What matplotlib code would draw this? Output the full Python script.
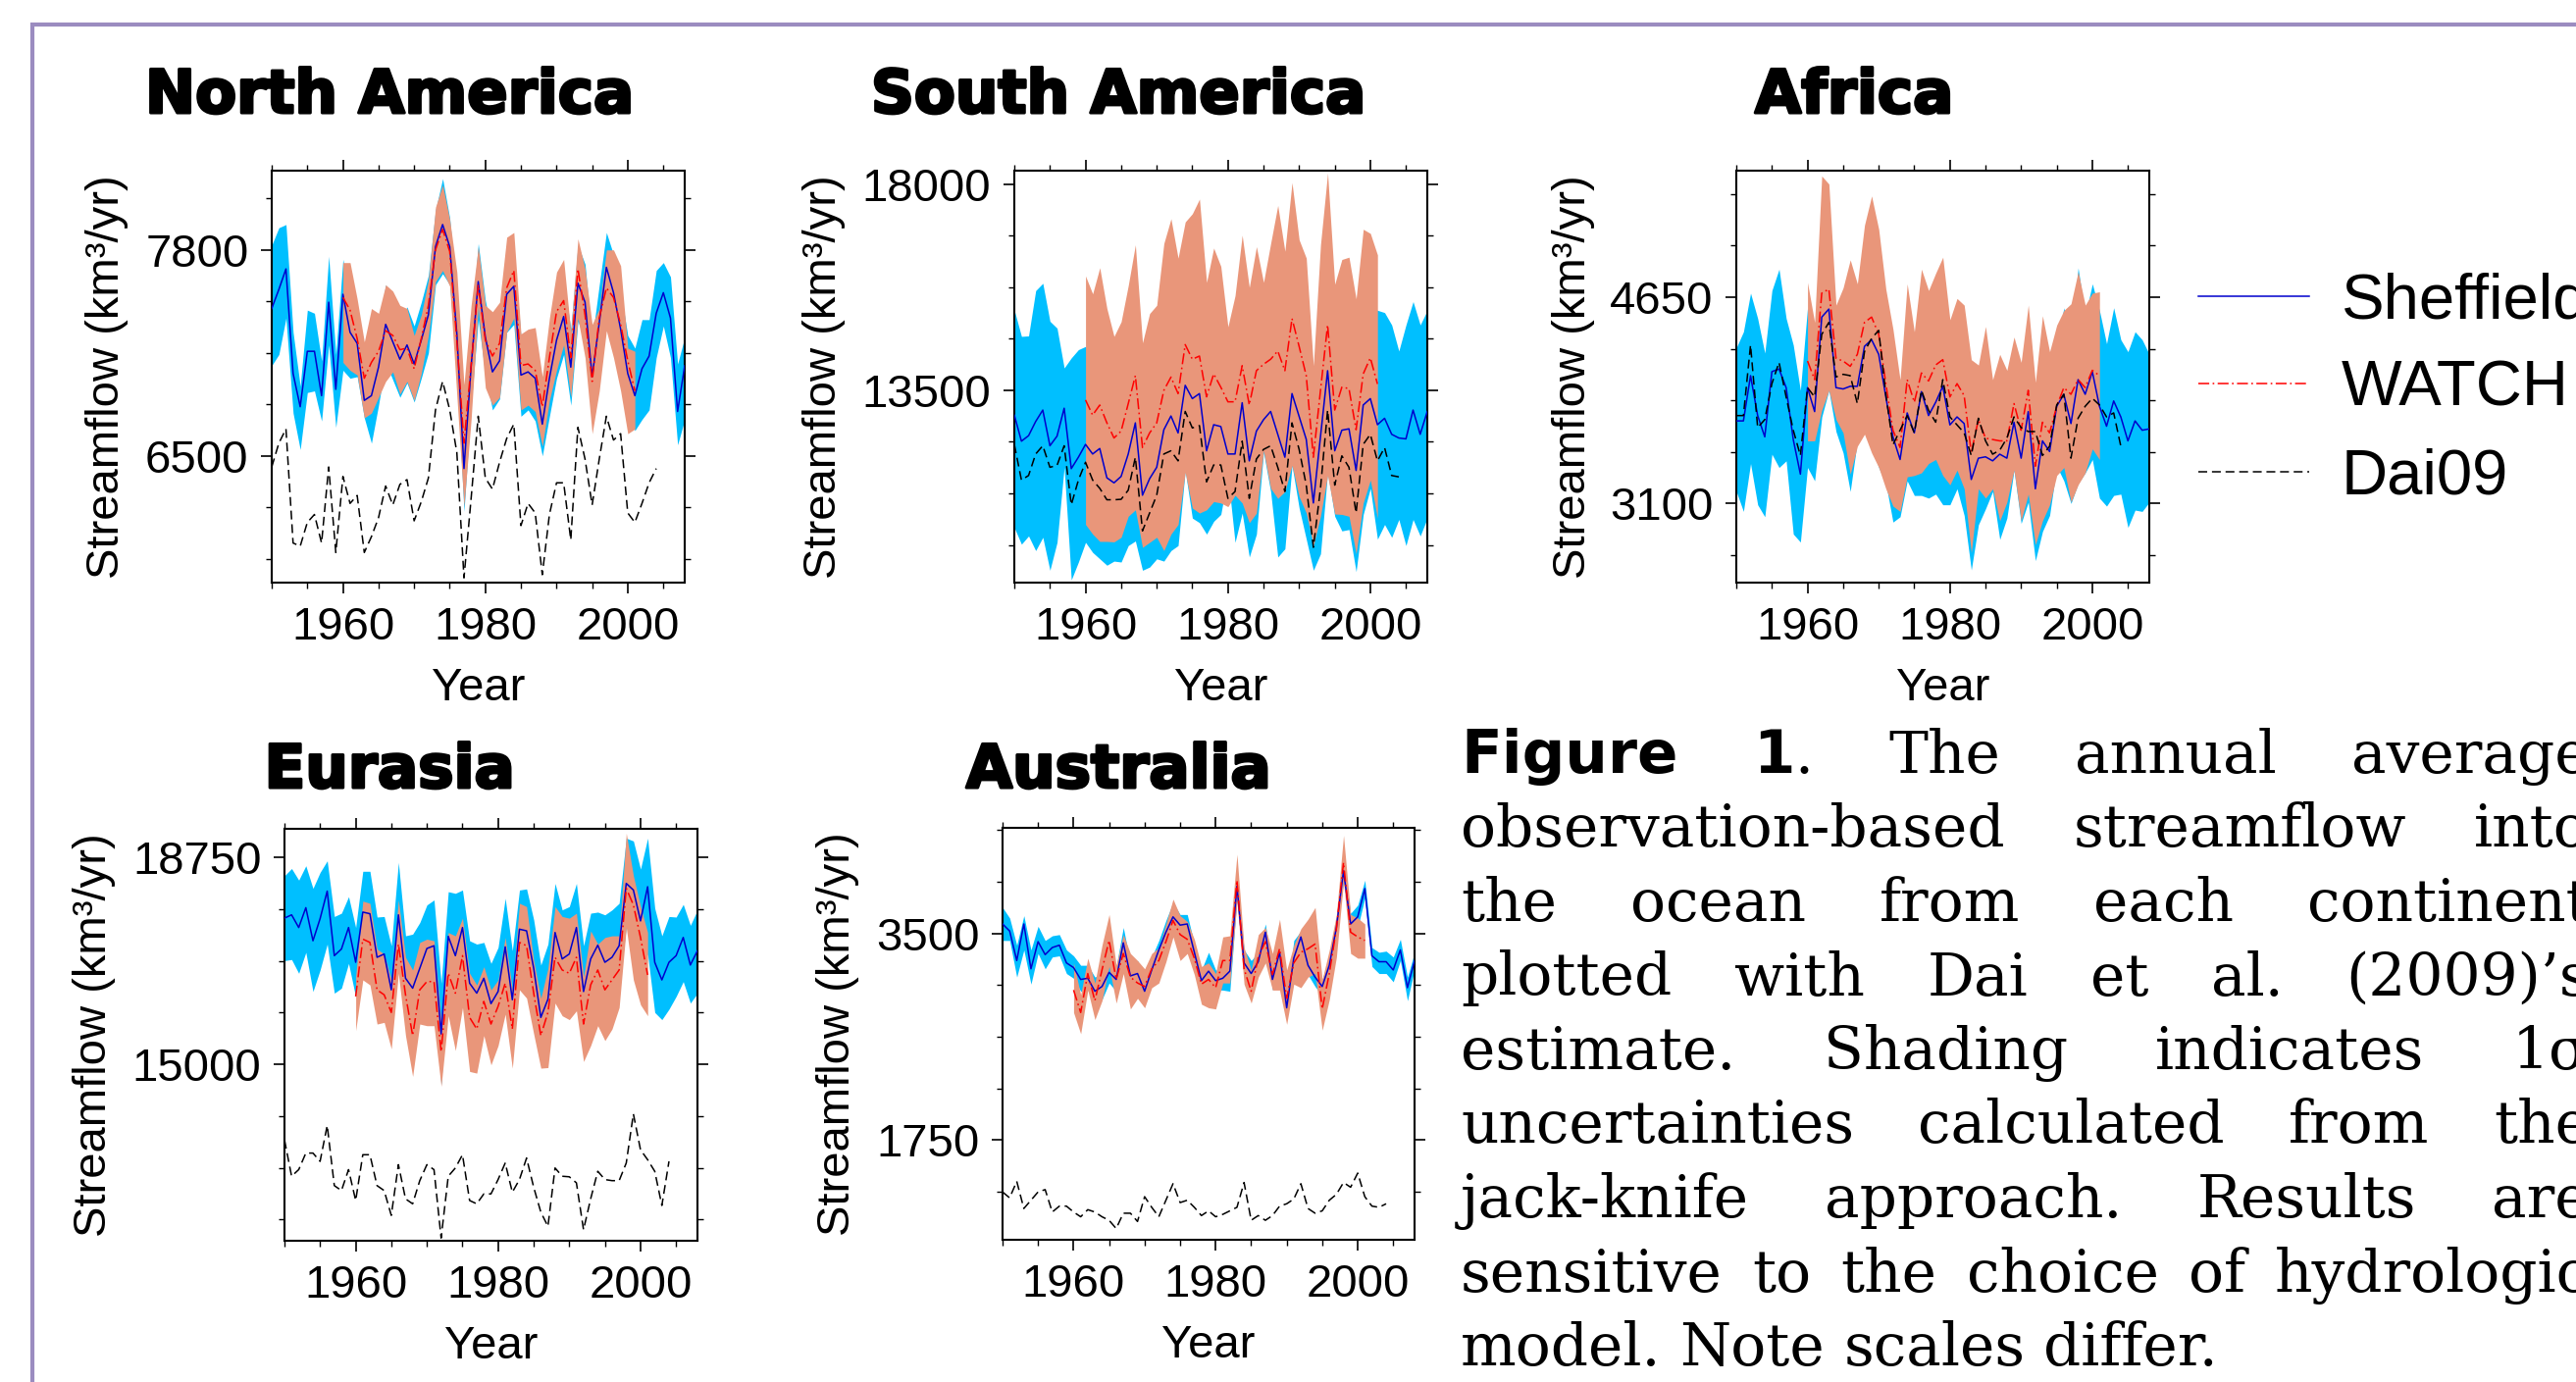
import matplotlib
matplotlib.use('Agg')
import numpy as np
import matplotlib.pyplot as plt
import matplotlib.patheffects as pe
from matplotlib.patches import Rectangle

W, H = 2626, 1409
plt.rcParams['font.family'] = ['Liberation Sans', 'DejaVu Sans']
plt.rcParams['lines.scale_dashes'] = False

years = list(range(1950, 2009))
years_watch = list(range(1960, 2002))
years_dai = list(range(1950, 2005))

# ---- North America ----
na_sheff = [7430, 7550, 7680, 7020, 6810, 7160, 7160, 6880, 7470, 6920,
            7520, 7280, 7210, 6850, 6880, 7060, 7330, 7220, 7110, 7200,
            7080, 7230, 7390, 7820, 7960, 7820, 7270, 6420, 7060, 7600,
            7250, 7030, 7100, 7520, 7570, 7010, 7030, 6990, 6700, 6990,
            7230, 7380, 7060, 7590, 7470, 7000, 7340, 7690, 7530, 7300,
            7020, 6880, 7050, 7130, 7400, 7530, 7370, 6780, 7070]
na_sheff_hi = [7830, 7940, 7960, 7280, 6940, 7420, 7400, 7100, 7760, 7140,
               7740, 7500, 7440, 7080, 7100, 7300, 7580, 7460, 7350, 7440,
               7320, 7470, 7640, 8050, 8250, 8000, 7500, 6700, 7300, 7840,
               7480, 7260, 7340, 7760, 7800, 7250, 7270, 7230, 6940, 7230,
               7470, 7620, 7300, 7830, 7710, 7240, 7580, 7910, 7770, 7540,
               7260, 7180, 7360, 7360, 7670, 7720, 7630, 7080, 7250]
na_sheff_lo = [7070, 7140, 7370, 6770, 6540, 6900, 6910, 6720, 7200, 6680,
               7040, 6990, 7000, 6740, 6580, 6820, 7090, 6980, 6870, 6960,
               6840, 6990, 7150, 7580, 7650, 7580, 7030, 6150, 6820, 7360,
               7010, 6790, 6860, 7280, 7330, 6750, 6790, 6720, 6500, 6750,
               6990, 7140, 6820, 7350, 7230, 6760, 7100, 7450, 7290, 7060,
               6780, 6660, 6730, 6790, 7120, 7320, 7120, 6570, 6730]
na_watch = [7500, 7420, 7240, 6990, 7090, 7160, 7290, 7260, 7170, 7180,
            7050, 7240, 7450, 7800, 7930, 7790, 7230, 6580, 7070, 7580,
            7230, 7130, 7210, 7560, 7670, 7070, 7080, 7040, 6810, 7120,
            7410, 7480, 7120, 7680, 7390, 6970, 7370, 7560, 7500, 7330,
            7100, 6910]
na_watch_hi = [7720, 7720, 7490, 7220, 7430, 7400, 7580, 7540, 7450, 7430,
               7260, 7390, 7610, 8070, 8210, 7990, 7660, 6950, 7450, 7820,
               7450, 7410, 7470, 7880, 7910, 7270, 7300, 7310, 7000, 7370,
               7660, 7740, 7280, 7870, 7680, 7330, 7430, 7800, 7800, 7700,
               7180, 7160]
na_watch_lo = [7090, 7040, 7010, 6740, 6770, 6870, 6970, 7030, 6890, 6970,
               6850, 7020, 7260, 7600, 7670, 7570, 6880, 6180, 6730, 7440,
               6930, 6820, 6870, 7280, 7370, 6790, 6820, 6780, 6560, 6850,
               7040, 7200, 6870, 7370, 7120, 6640, 6910, 7290, 7120, 6910,
               6640, 6670]
na_dai = [6430, 6580, 6670, 5950, 5930, 6080, 6130, 5950, 6430, 5890,
          6370, 6200, 6250, 5890, 5990, 6110, 6310, 6190, 6320, 6350,
          6090, 6210, 6360, 6790, 6970, 6790, 6520, 5730, 6230, 6750,
          6360, 6290, 6460, 6610, 6700, 6060, 6200, 6140, 5750, 6130,
          6330, 6330, 5970, 6680, 6480, 6190, 6480, 6750, 6600, 6640,
          6140, 6080, 6200, 6330, 6420]

# ---- South America ----
sa_sheff = [12960, 12390, 12510, 12820, 13070, 12290, 12500, 13110, 11790, 12040,
            12320, 12110, 12230, 11590, 11480, 11620, 12110, 12790, 11210, 11570,
            11820, 12640, 12940, 12570, 13610, 13320, 13430, 12180, 12750, 12710,
            12110, 12110, 13230, 11960, 12610, 12860, 13040, 12540, 12040, 13430,
            12930, 12430, 11040, 12490, 13930, 12180, 12630, 12660, 11750, 13180,
            13320, 12750, 12890, 12540, 12460, 12440, 13070, 12540, 13040]
sa_sheff_hi = [15250, 14680, 14690, 15680, 15840, 15010, 14860, 13990, 14210, 14390,
               14460, 14260, 14640, 13500, 13190, 13490, 14110, 15370, 12850, 13500,
               13820, 15510, 15880, 15030, 15470, 15930, 16250, 14000, 14860, 14630,
               12580, 14040, 15640, 14060, 14860, 13570, 14790, 15220, 14040, 15000,
               14930, 14610, 12510, 15050, 16150, 13610, 14830, 14860, 13960, 15570,
               15280, 15250, 15200, 14930, 14360, 14930, 15440, 14930, 15250]
sa_sheff_lo = [10500, 10140, 10320, 10000, 10290, 9570, 10180, 11820, 9360, 9750,
               10180, 9960, 9820, 9680, 9770, 9750, 10110, 10210, 9570, 9640,
               9820, 9770, 10000, 10110, 11750, 10710, 10610, 10360, 10640, 10790,
               11640, 10180, 10820, 9860, 10360, 12150, 11290, 9860, 10040, 11860,
               10930, 10250, 9570, 9930, 11710, 10750, 10430, 10460, 9540, 10790,
               11360, 10250, 10570, 10290, 10680, 10110, 10680, 10320, 10710]
sa_watch = [13290, 12960, 13180, 12790, 12460, 12610, 13210, 13820, 12250, 12570,
            12790, 13500, 13790, 13430, 14500, 14180, 14250, 13360, 13860, 13570,
            13250, 13250, 14040, 13180, 13930, 14070, 14180, 14360, 13930, 15070,
            14460, 13820, 12040, 13500, 14930, 13070, 13570, 13540, 12640, 13860,
            14210, 13640]
sa_watch_hi = [16000, 15610, 16180, 15290, 14680, 15000, 15790, 16680, 14540, 15180,
               15360, 16710, 17250, 16390, 17180, 17360, 17680, 15860, 16610, 16210,
               14890, 15570, 16890, 15750, 16640, 15860, 16710, 17540, 16540, 18040,
               16790, 16390, 14040, 16680, 18250, 15820, 16360, 16410, 15500, 17020,
               16930, 16460]
sa_watch_lo = [10570, 10360, 10200, 10200, 10190, 10290, 10750, 10890, 10070, 10180,
               10290, 10000, 10360, 10570, 11710, 10930, 10820, 10890, 11070, 11040,
               10960, 11210, 11040, 10610, 10820, 12180, 11360, 11140, 11290, 11860,
               11180, 10820, 10110, 10750, 11640, 10800, 10790, 10750, 9930, 11040,
               11540, 10710]
sa_dai = [12320, 11540, 11640, 12110, 12290, 11820, 11860, 12290, 11000, 11540,
          11930, 11540, 11360, 11110, 11110, 11120, 11320, 12040, 10430, 10820,
          11210, 12110, 12180, 11960, 13040, 12680, 12730, 11500, 11870, 11870,
          11140, 11290, 12390, 11140, 12000, 12210, 12290, 11820, 11290, 12790,
          12210, 11430, 10070, 11360, 13070, 11430, 12070, 11820, 10820, 12320,
          12540, 11960, 12250, 11640, 11610]

# ---- Africa ----
af_sheff = [3720, 3720, 4060, 3760, 3600, 4090, 4110, 3970, 3580, 3320,
            3970, 3790, 4500, 4560, 3970, 3960, 3980, 3980, 4280, 4330,
            4220, 3900, 3600, 3430, 3780, 3630, 3940, 3760, 3860, 3980,
            3690, 3750, 3700, 3280, 3440, 3450, 3420, 3470, 3440, 3710,
            3440, 3790, 3210, 3570, 3490, 3830, 3920, 3700, 4030, 3920,
            4090, 3830, 3680, 3870, 3750, 3570, 3720, 3650, 3660]
af_sheff_hi = [4270, 4390, 4680, 4490, 4230, 4700, 4860, 4490, 4290, 3950,
               4570, 4310, 5250, 5170, 4300, 4440, 4770, 4390, 4820, 5110,
               5070, 4550, 4240, 3860, 4290, 4100, 4720, 4380, 4550, 4870,
               4290, 4290, 4390, 3960, 3940, 3840, 3650, 4110, 3890, 4070,
               3930, 4470, 3750, 4250, 3970, 4280, 4570, 4300, 4870, 4510,
               4750, 4550, 4300, 4570, 4330, 4240, 4390, 4330, 4220]
af_sheff_lo = [3190, 3040, 3400, 3090, 3000, 3470, 3370, 3420, 2870, 2810,
               3370, 3270, 3750, 3950, 3640, 3480, 3190, 3570, 3740, 3550,
               3370, 3250, 2960, 3000, 3270, 3160, 3160, 3140, 3170, 3090,
               3090, 3210, 3010, 2600, 2940, 3060, 3190, 2830, 2990, 3350,
               2950, 3110, 2670, 2890, 3010, 3380, 3270, 3100, 3250, 3330,
               3430, 3140, 3080, 3160, 3170, 2920, 3050, 3040, 3110]
af_watch = [4170, 4030, 4680, 4710, 4190, 4170, 4130, 4220, 4460, 4500,
            4370, 4000, 3650, 3520, 4030, 3860, 4080, 4020, 4140, 4180,
            3900, 4000, 3910, 3480, 3730, 3590, 3580, 3570, 3570, 3850,
            3650, 3950, 3380, 3710, 3630, 3830, 3970, 3920, 4030, 3970,
            4100, 4060]
af_watch_hi = [4760, 4460, 5560, 5500, 4590, 4720, 4930, 4750, 5190, 5410,
               5160, 4710, 4410, 4030, 4750, 4390, 4860, 4700, 4830, 4950,
               4480, 4640, 4590, 4180, 4140, 4430, 4030, 4220, 4100, 4350,
               4160, 4590, 4010, 4510, 4240, 4440, 4550, 4600, 4840, 4590,
               4680, 4690]
af_watch_lo = [3570, 3570, 3800, 3950, 3730, 3630, 3320, 3530, 3620, 3480,
               3370, 3210, 3080, 3040, 3300, 3310, 3330, 3400, 3430, 3310,
               3240, 3350, 3210, 2730, 3210, 3140, 3210, 2970, 3110, 3350,
               2970, 3170, 2790, 2970, 3090, 3310, 3370, 3110, 3240, 3330,
               3510, 3430]
af_dai = [3760, 3760, 4290, 3670, 3730, 4000, 4160, 3900, 3650, 3460,
          3970, 3900, 4370, 4460, 4050, 4070, 4060, 3850, 4240, 4340,
          4400, 3920, 3540, 3650, 3760, 3630, 3950, 3800, 3710, 4030,
          3750, 3690, 3630, 3460, 3740, 3570, 3470, 3500, 3590, 3750,
          3670, 3640, 3640, 3460, 3530, 3840, 3920, 3440, 3740, 3830,
          3890, 3840, 3750, 3780, 3530]

# ---- Eurasia ----
eu_sheff = [17650, 17710, 17480, 17840, 17240, 17640, 18140, 16970, 17090, 17480,
            16850, 17760, 17730, 16940, 17000, 16350, 17710, 16560, 16380, 16740,
            17100, 17150, 15550, 17320, 16970, 17480, 16470, 16290, 16560, 16100,
            16320, 17130, 16170, 17450, 17420, 16740, 15850, 16180, 17390, 16910,
            17000, 17480, 16320, 16910, 17160, 16850, 16940, 17150, 18280, 18160,
            17600, 18220, 16850, 16530, 16850, 16970, 17300, 16800, 17060]
eu_sheff_hi = [18420, 18550, 18340, 18600, 18190, 18480, 18690, 17680, 17740, 18040,
               17480, 18500, 18500, 17670, 17680, 17150, 18660, 17330, 17360, 17570,
               17890, 17980, 16470, 18130, 18100, 18160, 17240, 17180, 17210, 16830,
               17120, 18010, 17060, 18160, 18180, 17620, 16800, 17180, 18280, 17800,
               17860, 18280, 17150, 17740, 17760, 17710, 17800, 17920, 19100, 19050,
               18540, 19100, 17830, 17330, 17680, 17670, 17900, 17520, 17800]
eu_sheff_lo = [16880, 16900, 16650, 17030, 16320, 16710, 17180, 16290, 16380, 16830,
               16220, 17020, 16960, 16210, 16320, 15550, 16760, 15790, 15400, 15910,
               16310, 16320, 14630, 16510, 15840, 16800, 15700, 15400, 15910, 15370,
               15520, 16250, 15280, 16740, 16660, 15860, 15000, 15180, 16500, 16020,
               16140, 16680, 15490, 16080, 16560, 15990, 16080, 16380, 17500, 17270,
               16660, 17000, 15940, 15810, 16000, 16230, 16500, 16110, 16290]
eu_watch = [16230, 17270, 17210, 16350, 16260, 15940, 17180, 16260, 15520, 16350,
            16500, 16500, 15230, 16650, 16290, 16970, 15850, 15640, 16140, 15730,
            16050, 16470, 15640, 17210, 17150, 16290, 15520, 15940, 16940, 16710,
            16650, 16940, 15730, 16440, 16710, 16350, 16530, 16710, 18190, 17890,
            17300, 16620]
eu_watch_hi = [16590, 17960, 17920, 17090, 17000, 16530, 17980, 16940, 16710, 17210,
               17270, 17240, 15760, 17390, 17330, 17650, 16650, 16440, 16770, 16350,
               16530, 17300, 16350, 17920, 17860, 16880, 16200, 16740, 17860, 17680,
               17650, 17740, 16590, 17420, 17180, 17300, 17330, 17330, 19190, 18420,
               17860, 17390]
eu_watch_lo = [15610, 16530, 16440, 15730, 15760, 15280, 16650, 15520, 14780, 15730,
               15700, 15700, 14600, 15880, 15250, 16030, 14870, 14840, 15520, 14990,
               15340, 15910, 14930, 16350, 16200, 15550, 14930, 14940, 16110, 15880,
               15810, 15970, 15050, 15340, 15700, 15430, 15640, 16030, 17480, 16530,
               16080, 15880]
eu_dai = [13630, 12970, 13090, 13390, 13390, 13240, 13890, 12800, 12710, 13090,
          12530, 13360, 13360, 12800, 12710, 12260, 13180, 12560, 12470, 12890,
          13180, 13090, 11850, 12970, 13120, 13360, 12530, 12470, 12650, 12650,
          12910, 13210, 12680, 12910, 13300, 12770, 12320, 12060, 13120, 12970,
          12960, 12850, 12000, 12560, 13060, 12910, 12890, 12890, 13210, 14100,
          13450, 13270, 13060, 12440, 13240]

# ---- Australia ----
au_sheff = [3580, 3520, 3270, 3580, 3200, 3430, 3320, 3380, 3400, 3250,
            3210, 3110, 3120, 3010, 3050, 3170, 3110, 3420, 3140, 3160,
            3010, 3190, 3360, 3510, 3640, 3570, 3580, 3340, 3100, 3180,
            3100, 3120, 3180, 3900, 3250, 3160, 3260, 3510, 3110, 3340,
            2870, 3290, 3470, 3230, 3130, 3050, 3230, 3550, 4030, 3580,
            3640, 3880, 3310, 3260, 3260, 3190, 3360, 3040, 3270]
au_sheff_hi = [3720, 3630, 3400, 3650, 3360, 3560, 3440, 3480, 3490, 3360,
               3310, 3230, 3230, 3130, 3160, 3290, 3220, 3550, 3250, 3270,
               3110, 3300, 3440, 3610, 3760, 3660, 3660, 3410, 3190, 3340,
               3190, 3180, 3250, 3980, 3360, 3270, 3340, 3580, 3190, 3410,
               2950, 3440, 3520, 3300, 3200, 3110, 3300, 3620, 4100, 3670,
               3740, 3950, 3380, 3340, 3350, 3300, 3450, 3130, 3340]
au_sheff_lo = [3440, 3440, 3130, 3360, 3070, 3330, 3200, 3300, 3310, 3160,
               3120, 3010, 3020, 2910, 2940, 3080, 3010, 3300, 3050, 3070,
               2950, 3080, 3270, 3410, 3550, 3480, 3470, 3270, 3020, 3080,
               3020, 3020, 3010, 3800, 3130, 3050, 3160, 3430, 3020, 3250,
               2800, 3180, 3360, 3150, 3050, 2970, 3130, 3470, 3940, 3560,
               3550, 3800, 3220, 3160, 3160, 3090, 3270, 2930, 3200]
au_watch = [3020, 2830, 3160, 2930, 3190, 3440, 3110, 3330, 3130, 3080,
            3050, 3200, 3270, 3430, 3610, 3490, 3450, 3290, 3070, 3110,
            3040, 3270, 3270, 3950, 3200, 3010, 3300, 3430, 3150, 3370,
            2950, 3250, 3340, 3370, 3410, 2860, 3160, 3540, 4100, 3510,
            3470, 3440]
au_watch_hi = [3250, 2980, 3290, 3080, 3400, 3660, 3230, 3490, 3330, 3270,
               3200, 3330, 3380, 3580, 3790, 3650, 3600, 3450, 3220, 3250,
               3160, 3470, 3480, 4170, 3380, 3190, 3490, 3550, 3330, 3620,
               3190, 3400, 3540, 3620, 3720, 3110, 3360, 3660, 4330, 3660,
               3630, 3580]
au_watch_lo = [2830, 2650, 3020, 2770, 2930, 3220, 2910, 3160, 2860, 2950,
               2870, 3040, 3080, 3260, 3470, 3270, 3330, 3150, 2900, 2870,
               2860, 3080, 3080, 3770, 3070, 2910, 3130, 3250, 3020, 3020,
               2730, 3070, 3040, 3130, 3160, 2680, 2940, 3300, 3940, 3330,
               3290, 3290]
au_dai = [1310, 1260, 1400, 1170, 1240, 1310, 1330, 1140, 1190, 1190,
          1140, 1100, 1160, 1140, 1100, 1070, 1000, 1130, 1130, 1060,
          1270, 1180, 1100, 1240, 1380, 1220, 1240, 1180, 1110, 1150,
          1100, 1120, 1150, 1180, 1390, 1070, 1110, 1070, 1110, 1190,
          1210, 1250, 1380, 1170, 1130, 1150, 1240, 1290, 1390, 1350,
          1470, 1270, 1190, 1180, 1210]

titles = ['North America', 'South America', 'Africa', 'Eurasia', 'Australia']
y_major = [[6500, 7800], [13500, 18000], [3100, 4650], [15000, 18750], [1750, 3500]]
y_lims = [(5700, 8300), (9300, 18300), (2505, 5600), (11800, 19270), (905, 4394)]

series = [
    (na_sheff, na_sheff_lo, na_sheff_hi, na_watch, na_watch_lo, na_watch_hi, na_dai),
    (sa_sheff, sa_sheff_lo, sa_sheff_hi, sa_watch, sa_watch_lo, sa_watch_hi, sa_dai),
    (af_sheff, af_sheff_lo, af_sheff_hi, af_watch, af_watch_lo, af_watch_hi, af_dai),
    (eu_sheff, eu_sheff_lo, eu_sheff_hi, eu_watch, eu_watch_lo, eu_watch_hi, eu_dai),
    (au_sheff, au_sheff_lo, au_sheff_hi, au_watch, au_watch_lo, au_watch_hi, au_dai),
]

# layout in pixels: (left, top, right, bottom), ylabel x, title centre x, title baseline y
boxes = [(277, 174, 698, 594), (1034, 174, 1455, 594), (1770, 174, 2191, 594),
         (290, 845, 711, 1265), (1022, 844, 1442, 1264)]
ylabel_px = [131, 862, 1626, 118, 876]
title_pos = [(397, 115), (1140, 115), (1890, 115), (397, 803), (1140, 803)]

fig = plt.figure(figsize=(W / 100, H / 100), dpi=100)

# purple frame around the figure
fig.add_artist(Rectangle((33 / W, -0.2), 1.2, 1 - 25 / H + 0.2, transform=fig.transFigure,
                         fill=False, edgecolor='#9B8CC0', linewidth=3))

blue_band = '#00BFFF'
red_band = '#E9967A'
handles = None
for i in range(5):
    sheff, lo, hi, watch, wlo, whi, dai = series[i]
    l, t, r, b = boxes[i]
    ax = fig.add_axes([l / W, 1 - b / H, (r - l) / W, (b - t) / H])
    ax.fill_between(years, lo, hi, color=blue_band, linewidth=0, zorder=1)
    ax.fill_between(years_watch, wlo, whi, color=red_band, linewidth=0, zorder=2)
    h1, = ax.plot(years, sheff, color='#0000CD', lw=1.1, zorder=3)
    h2, = ax.plot(years_watch, watch, color='red', lw=1.1, dashes=(8, 2.5, 1.2, 2.5), zorder=4)
    h3, = ax.plot(years_dai, dai, color='black', lw=1.1, dashes=(6.5, 3.5), zorder=5)
    if i == 2:
        handles = [h1, h2, h3]

    ax.set_xlim(1950, 2008)
    ax.set_ylim(*y_lims[i])
    ax.set_xticks([1960, 1980, 2000])
    ax.set_xticks(list(range(1950, 2009, 5)), minor=True)
    step = (y_major[i][1] - y_major[i][0]) / 4
    minors = np.arange(y_major[i][0] - 4 * step, y_major[i][1] + 5 * step, step)
    minors = [m for m in minors if y_lims[i][0] <= m <= y_lims[i][1]]
    ax.set_yticks(y_major[i])
    ax.set_yticks(minors, minor=True)
    ax.tick_params(which='both', direction='out', top=True, right=True,
                   labeltop=False, labelright=False)
    ax.tick_params(which='major', length=8, width=1.2, labelsize=34, pad=9)
    ax.tick_params(which='minor', length=4, width=1.0)
    for s in ax.spines.values():
        s.set_linewidth(1.5)

    ax.set_xlabel('Year', fontsize=34)
    ax.xaxis.set_label_coords(0.5, -86 / (b - t))
    ax.set_ylabel('Streamflow (km³/yr)', fontsize=34)
    ax.yaxis.set_label_coords((ylabel_px[i] - l) / (r - l), 0.5)

    tx, ty = title_pos[i]
    fig.text(tx / W, 1 - ty / H, titles[i], ha='center', va='baseline',
             fontsize=44, fontweight='bold', family='DejaVu Sans',
             path_effects=[pe.withStroke(linewidth=2.2, foreground='black')])

fig.legend(handles, ['Sheffield', 'WATCH', 'Dai09'], loc='center left',
           bbox_to_anchor=(2241 / W, 1 - 397 / H), frameon=False, fontsize=47,
           handlelength=1.73, handletextpad=0.5, labelspacing=0.45,
           borderpad=0, borderaxespad=0)

# caption, justified by hand
serif = dict(family='DejaVu Serif', fontsize=43)
boldsans = dict(family='DejaVu Sans', fontsize=44, fontweight='bold')
caption = [
    [[('Figure', 1)], [('1', 1), ('.', 0)], [('The', 0)], [('annual', 0)], [('average', 0)]],
    'observation-based streamflow into',
    'the ocean from each continent',
    'plotted with Dai et al. (2009)\u2019s',
    'estimate. Shading indicates 1\u03c3',
    'uncertainties calculated from the',
    'jack-knife approach. Results are',
    'sensitive to the choice of hydrologic',
    'model. Note scales differ.',
]
L, R = 1489, 2640
renderer = fig.canvas.get_renderer()
for k, line in enumerate(caption):
    if isinstance(line, str):
        line = [[(w, 0)] for w in line.split()]
    y = 1 - (788 + 75.5 * k) / H
    items = []
    for word in line:
        segs = []
        for txt, bold in word:
            tt = fig.text(0, y, txt, ha='left', va='baseline', **(boldsans if bold else serif))
            segs.append((tt, tt.get_window_extent(renderer).width))
        items.append(segs)
    widths = [sum(w for _, w in segs) for segs in items]
    if k < len(caption) - 1:
        gap = (R - L - sum(widths)) / (len(items) - 1)
    else:
        gap = 19
    x = L
    for segs, ww in zip(items, widths):
        xx = x
        for tt, w in segs:
            tt.set_x(xx / W)
            xx += w
        x += ww + gap

fig.savefig('out.png', dpi=100)
